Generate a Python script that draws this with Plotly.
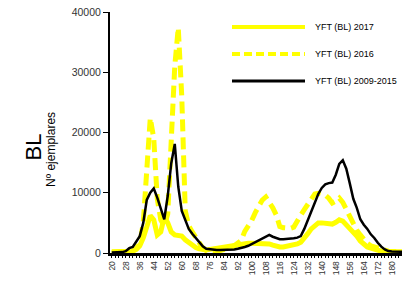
import plotly.graph_objects as go

# categories (talla, step 2): 20..188
sizes = list(range(20, 190, 2))

bl_2009_2015 = [
    100, 100, 100, 150, 300, 800, 1000, 1800, 2800, 5000,            # 20-38
    8800, 10000, 10700, 9200, 7200, 5600, 9500, 14900, 18100, 11000,  # 40-58
    7000, 5500, 4000, 3200, 2500, 1900, 1100, 700, 600, 550,          # 60-78
    500, 500, 500, 500, 550, 600, 700, 800, 1000, 1200,               # 80-98
    1500, 1800, 2100, 2400, 2800, 3000, 2700, 2450, 2300, 2270,       # 100-118
    2300, 2380, 2450, 2550, 2800, 4000, 5500, 7000, 8250, 9800,       # 120-138
    10800, 11400, 11600, 11700, 13000, 14800, 15400, 14000, 11550, 9000,  # 140-158
    7500, 5600, 4700, 4000, 3100, 2500, 1700, 1050, 600, 330,         # 160-178
    250, 200, 200, 200, 200]                                          # 180-188

bl_2016 = [
    100, 100, 100, 100, 100, 100, 300, 800, 1500, 5000,               # 20-38
    15000, 22400, 19000, 9000, 5500, 4500, 6500, 17000, 31000, 37400, # 40-58
    26000, 7000, 4500, 3500, 2500, 1500, 800, 400, 300, 300,          # 60-78
    300, 400, 500, 700, 900, 1200, 1600, 2100, 3600, 4500,            # 80-98
    5400, 6700, 7800, 8800, 9300, 8500, 7500, 6300, 4400, 4200,       # 100-118
    4100, 4100, 4300, 5500, 6300, 7200, 8000, 9000, 9800, 9900,       # 120-138
    9800, 9600, 9100, 8300, 8600, 9100, 8400, 7200, 5800, 4600,       # 140-158
    3800, 3000, 2200, 1600, 1200, 1000, 800, 550, 400, 300,           # 160-178
    250, 200, 200, 200, 200]                                          # 180-188

bl_2017 = [
    200, 200, 200, 200, 200, 200, 300, 600, 1200, 2500,               # 20-38
    4500, 6200, 5500, 3000, 3500, 6000, 5000, 3500, 3000, 3000,       # 40-58
    2800, 2200, 1700, 1200, 900, 700, 500, 500, 600, 700,             # 60-78
    800, 900, 1000, 1100, 1200, 1300, 1400, 1500, 1600, 1600,         # 80-98
    1600, 1600, 1600, 1600, 1600, 1500, 1300, 1100, 1000, 1000,       # 100-118
    1100, 1200, 1300, 1500, 1800, 2400, 3200, 4000, 4600, 5000,       # 120-138
    5000, 4900, 4800, 4800, 5100, 5500, 5300, 4700, 4000, 3600,       # 140-158
    2800, 2000, 1400, 1000, 800, 600, 400, 300, 250, 200,             # 160-178
    200, 200, 200, 200, 200]                                          # 180-188

series_names = ["YFT (BL) 2017", "YFT (BL) 2016", "YFT (BL) 2009-2015"]
y_ticks = [0, 10000, 20000, 30000, 40000]
y_tick_labels = ["0", "10000", "20000", "30000", "40000"]

YEL = "#FFFF00"

fig = go.Figure()
fig.add_trace(go.Scatter(x=sizes, y=bl_2017, mode="lines", name=series_names[0],
                         line=dict(color=YEL, width=5)))
fig.add_trace(go.Scatter(x=sizes, y=bl_2016, mode="lines", name=series_names[1],
                         line=dict(color=YEL, width=5, dash="12px,6px")))
fig.add_trace(go.Scatter(x=sizes, y=bl_2009_2015, mode="lines", name=series_names[2],
                         line=dict(color="black", width=2.5)))

# the page body has an 8px margin: figure is shifted by 8px, so sizes compensate
fig.update_layout(
    width=402, height=273,
    margin=dict(l=102, r=0, t=4, b=28),
    paper_bgcolor="white", plot_bgcolor="white",
    showlegend=False,
    font=dict(family="Arial", size=9, color="#333333"),
)
fig.update_xaxes(
    range=[19, 190.4], tickmode="linear", tick0=20, dtick=8,
    tickangle=-90, tickfont=dict(size=8.5, color="#333333"),
    showline=True, linecolor="black", linewidth=2.5,
    ticks="outside", ticklen=2, tickcolor="black",
    minor=dict(dtick=2, tick0=20, ticks="outside", ticklen=2, tickcolor="black", showgrid=False),
    showgrid=False, zeroline=False, automargin=False, ticklabeloverflow="allow",
)
fig.update_yaxes(
    range=[0, 40000], tickvals=y_ticks, ticktext=y_tick_labels,
    tickfont=dict(size=10.5, color="#333333"),
    showline=True, linecolor="black", linewidth=2,
    ticks="outside", ticklen=5, tickcolor="black",
    showgrid=False, zeroline=False, automargin=False, ticklabeloverflow="allow",
)

# y-axis titles
fig.add_annotation(text="BL", xref="paper", yref="paper", x=(18 - 110) / 300, y=(253 - 147) / 241,
                   showarrow=False, textangle=-90, font=dict(size=22, color="black"))
fig.add_annotation(text="Nº ejemplares", xref="paper", yref="paper", x=(42 - 110) / 300, y=(253 - 150) / 241,
                   showarrow=False, textangle=-90, font=dict(size=12, color="black"))

# legend drawn manually
leg = [(27, dict(color=YEL, width=4)), (54, dict(color=YEL, width=4, dash="8px,4px")),
       (81, dict(color="black", width=3))]
for (py, ln), name in zip(leg, series_names):
    yy = (253 - py) / 241
    fig.add_shape(type="line", xref="paper", yref="paper", x0=(232 - 110) / 300, x1=(305 - 110) / 300,
                  y0=yy, y1=yy, line=ln)
    fig.add_annotation(text=name, xref="paper", yref="paper", x=(313 - 110) / 300, y=yy,
                       xanchor="left", yanchor="middle", showarrow=False,
                       font=dict(size=9, color="black"))

fig.write_html("out.html")
